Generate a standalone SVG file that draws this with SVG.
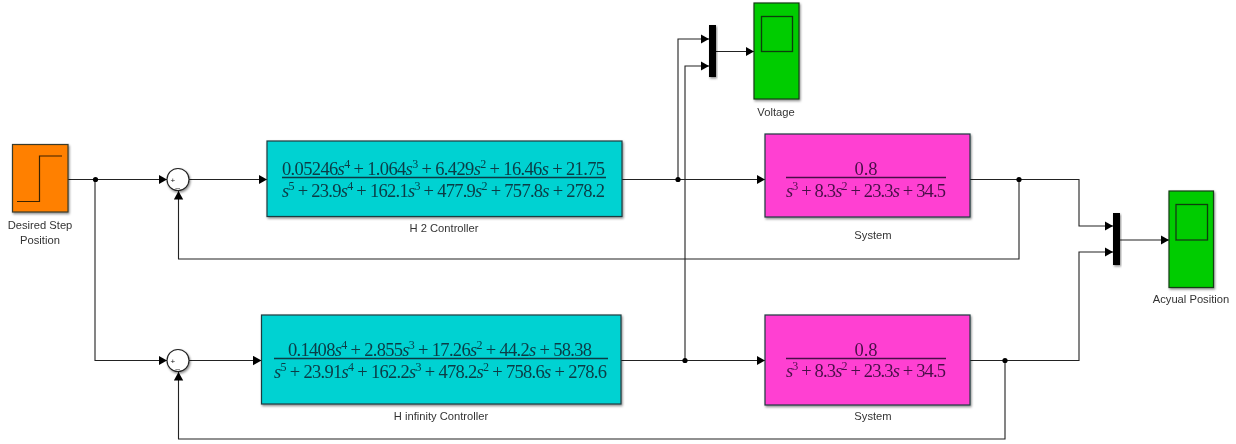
<svg xmlns="http://www.w3.org/2000/svg" width="1236" height="444" viewBox="0 0 1236 444">
<style>
.c{fill:none;stroke:#222;stroke-width:1.1;marker-end:url(#a)}
.p{fill:none;stroke:#222;stroke-width:1.1}
.d{fill:#000}
.b{stroke:#1f3a3f;stroke-width:1.2;filter:url(#s)}
.t{fill:#00d2d2}.m{fill:#ff40d2}.g{fill:#00cc00;stroke:#123c12;stroke-width:1.2;filter:url(#s)}
.i{fill:none;stroke:#0b3d0b;stroke-width:1.3}
.l{font-family:"Liberation Sans",Arial,sans-serif;font-size:11.2px;fill:#333;text-anchor:middle}
.f{font-family:"Liberation Serif","Times New Roman",serif;font-size:18.5px;fill:#0a3a44}
.fm{fill:#4a1048}
.x{font-style:italic}
.u{font-size:12px}
.r{stroke:#0a3a44;stroke-width:1.3}
.rm{stroke:#4a1048;stroke-width:1.3}
.o{font-family:"Liberation Sans",Arial,sans-serif;font-size:8px;fill:#111}
</style>
<defs>
<marker id="a" markerUnits="userSpaceOnUse" markerWidth="9" markerHeight="10" refX="8.5" refY="5" orient="auto"><path d="M0 0.3L8.5 5L0 9.7Z" fill="#000"/></marker>
<filter id="s" x="-10%" y="-10%" width="125%" height="125%"><feDropShadow dx="1" dy="1.5" stdDeviation="1.2" flood-color="#000" flood-opacity="0.45"/></filter>
<filter id="soft" x="0" y="0" width="100%" height="100%" filterUnits="userSpaceOnUse"><feGaussianBlur stdDeviation="0.35"/></filter>
</defs>
<rect width="1236" height="444" fill="#fff"/>
<g filter="url(#soft)">
<g id="connectors">
<path class="c" d="M68 179.500H167"/>
<path class="c" d="M95 179.500V360.500H167"/>
<path class="c" d="M189 179.500H267"/>
<path class="c" d="M622 179.500H765"/>
<path class="c" d="M678 179.500V39H709"/>
<path class="c" d="M1019 179.500V259H178.500V191"/>
<path class="c" d="M189 360.500H261.500"/>
<path class="c" d="M621 360.500H765"/>
<path class="c" d="M685 360.500V66H709"/>
<path class="c" d="M970 179.500H1079V226H1113"/>
<path class="c" d="M970 360.500H1079V252H1113"/>
<path class="c" d="M1005 360.500V439H178.500V372"/>
<path class="c" d="M716 51.500H754"/>
<path class="c" d="M1120 240H1169"/>
<circle class="d" cx="95.500" cy="179.500" r="2.600"/>
<circle class="d" cx="678" cy="179.500" r="2.600"/>
<circle class="d" cx="685" cy="360.500" r="2.600"/>
<circle class="d" cx="1019" cy="179.500" r="2.600"/>
<circle class="d" cx="1005" cy="360.500" r="2.600"/>
</g>
<g id="step">
<rect x="12.500" y="144.500" width="55.500" height="67.500" fill="#ff8000" stroke="#3a3a2a" stroke-width="1.200" filter="url(#s)"/>
<path d="M17 201.500H39.500V156H62" fill="none" stroke="#3a2000" stroke-width="1.200"/>
<text class="l" x="40" y="229">Desired Step</text>
<text class="l" x="40" y="244">Position</text>
</g>
<g id="sum1">
<circle cx="178" cy="179.500" r="11" fill="#fff" stroke="#222" stroke-width="1.100" filter="url(#s)"/>
<text class="o" x="170.500" y="182.500">+</text><text class="o" x="175.500" y="187">_</text>
</g>
<g id="sum2">
<circle cx="178" cy="360.500" r="11" fill="#fff" stroke="#222" stroke-width="1.100" filter="url(#s)"/>
<text class="o" x="170.500" y="363.500">+</text><text class="o" x="175.500" y="368">_</text>
</g>
<g id="h2">
<rect class="b t" x="267" y="141" width="355" height="75.500"/>
<text class="f" x="282" y="175" textLength="323"><tspan>0.05246</tspan><tspan class="x">s</tspan><tspan class="u" dy="-7">4</tspan><tspan dy="7"> + 1.064</tspan><tspan class="x">s</tspan><tspan class="u" dy="-7">3</tspan><tspan dy="7"> + 6.429</tspan><tspan class="x">s</tspan><tspan class="u" dy="-7">2</tspan><tspan dy="7"> + 16.46</tspan><tspan class="x">s</tspan><tspan> + 21.75</tspan></text>
<path class="r" d="M282 177.500H606"/>
<text class="f" x="282" y="196.500" textLength="323"><tspan class="x">s</tspan><tspan class="u" dy="-7">5</tspan><tspan dy="7"> + 23.9</tspan><tspan class="x">s</tspan><tspan class="u" dy="-7">4</tspan><tspan dy="7"> + 162.1</tspan><tspan class="x">s</tspan><tspan class="u" dy="-7">3</tspan><tspan dy="7"> + 477.9</tspan><tspan class="x">s</tspan><tspan class="u" dy="-7">2</tspan><tspan dy="7"> + 757.8</tspan><tspan class="x">s</tspan><tspan> + 278.2</tspan></text>
<text class="l" x="444" y="232">H 2 Controller</text>
</g>
<g id="hinf">
<rect class="b t" x="261.500" y="315" width="359.500" height="89"/>
<text class="f" x="288" y="356" textLength="304"><tspan>0.1408</tspan><tspan class="x">s</tspan><tspan class="u" dy="-7">4</tspan><tspan dy="7"> + 2.855</tspan><tspan class="x">s</tspan><tspan class="u" dy="-7">3</tspan><tspan dy="7"> + 17.26</tspan><tspan class="x">s</tspan><tspan class="u" dy="-7">2</tspan><tspan dy="7"> + 44.2</tspan><tspan class="x">s</tspan><tspan> + 58.38</tspan></text>
<path class="r" d="M274 358.500H608"/>
<text class="f" x="274" y="377.500" textLength="333"><tspan class="x">s</tspan><tspan class="u" dy="-7">5</tspan><tspan dy="7"> + 23.91</tspan><tspan class="x">s</tspan><tspan class="u" dy="-7">4</tspan><tspan dy="7"> + 162.2</tspan><tspan class="x">s</tspan><tspan class="u" dy="-7">3</tspan><tspan dy="7"> + 478.2</tspan><tspan class="x">s</tspan><tspan class="u" dy="-7">2</tspan><tspan dy="7"> + 758.6</tspan><tspan class="x">s</tspan><tspan> + 278.6</tspan></text>
<text class="l" x="441" y="420">H infinity Controller</text>
</g>
<g id="system1">
<rect class="b m" x="765" y="134" width="205" height="83"/>
<text class="f fm" x="866" y="175" text-anchor="middle">0.8</text>
<path class="rm" d="M786 177.500H946"/>
<text class="f fm" x="786" y="197" textLength="160"><tspan class="x">s</tspan><tspan class="u" dy="-7">3</tspan><tspan dy="7"> + 8.3</tspan><tspan class="x">s</tspan><tspan class="u" dy="-7">2</tspan><tspan dy="7"> + 23.3</tspan><tspan class="x">s</tspan><tspan> + 34.5</tspan></text>
<text class="l" x="873" y="239">System</text>
</g>
<g id="system2">
<rect class="b m" x="765" y="315" width="205" height="90"/>
<text class="f fm" x="866" y="356" text-anchor="middle">0.8</text>
<path class="rm" d="M786 358.500H946"/>
<text class="f fm" x="786" y="377" textLength="160"><tspan class="x">s</tspan><tspan class="u" dy="-7">3</tspan><tspan dy="7"> + 8.3</tspan><tspan class="x">s</tspan><tspan class="u" dy="-7">2</tspan><tspan dy="7"> + 23.3</tspan><tspan class="x">s</tspan><tspan> + 34.5</tspan></text>
<text class="l" x="873" y="420">System</text>
</g>
<g id="mux1"><rect x="709" y="25" width="7" height="52" fill="#000" filter="url(#s)"/></g>
<g id="mux2"><rect x="1113" y="213" width="7" height="52" fill="#000" filter="url(#s)"/></g>
<g id="scope1">
<rect class="g" x="754" y="3" width="45" height="96"/>
<rect class="i" x="761.500" y="16.500" width="31" height="35"/>
<text class="l" x="776" y="116">Voltage</text>
</g>
<g id="scope2">
<rect class="g" x="1169" y="191" width="44.500" height="96.500"/>
<rect class="i" x="1176" y="204.500" width="31.500" height="35.500"/>
<text class="l" x="1191" y="303">Acyual Position</text>
</g>
</g>
</svg>
